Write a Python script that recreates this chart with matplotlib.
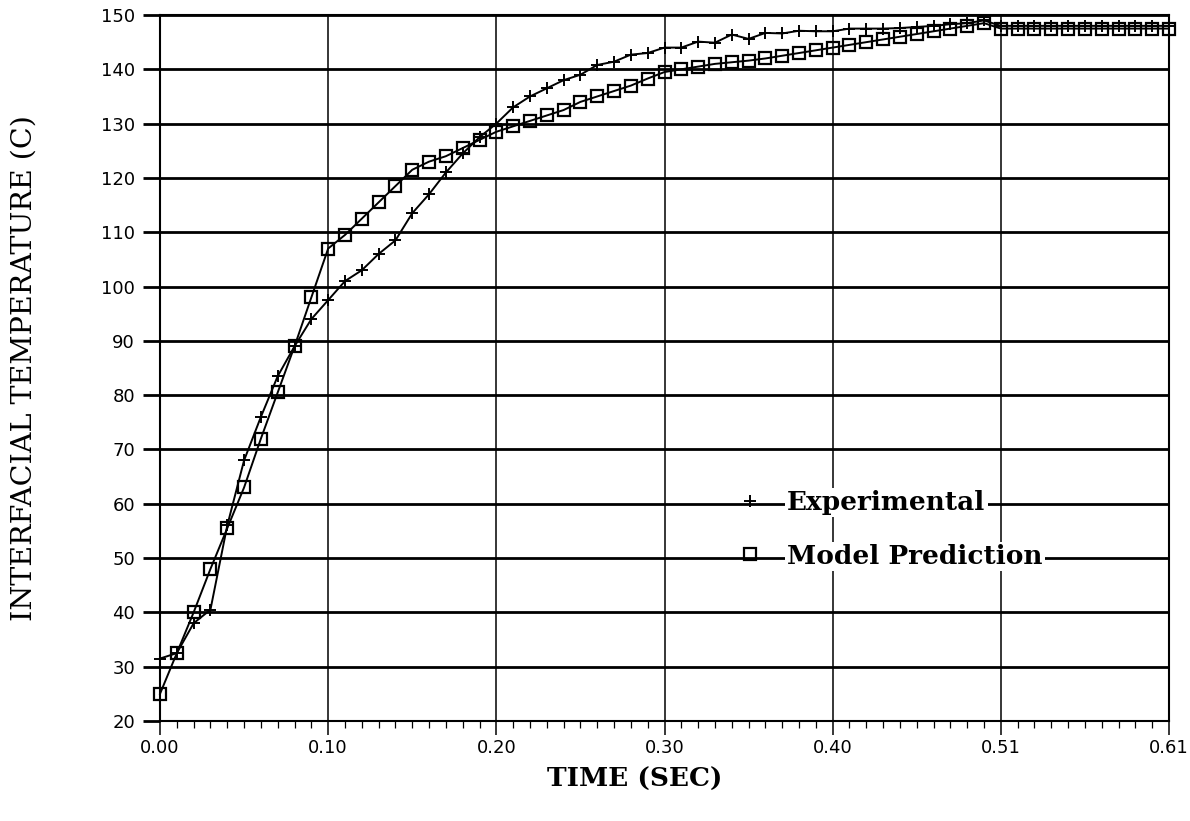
import numpy as np
import matplotlib
matplotlib.use("Agg")
import matplotlib.pyplot as plt
from matplotlib.ticker import MultipleLocator, FixedLocator, FixedFormatter

# sample index (the x axis is a category axis, 61 samples)
idx = np.arange(61)

# experimental interfacial temperature (C)
experimental = [
    31.5, 32.5, 38.0, 40.5, 56.0, 68.0, 76.0, 83.5, 89.0, 94.0,
    97.5, 101.0, 103.0, 106.0, 108.5, 113.5, 117.0, 121.0, 124.5, 127.5,
    130.0, 133.0, 135.0, 136.5, 138.0, 139.0, 140.8, 141.4, 142.7, 143.0,
    144.0, 144.0, 145.1, 144.9, 146.4, 145.6, 146.7, 146.6, 147.1, 147.0,
    147.0, 147.5, 147.5, 147.5, 147.6, 147.8, 148.0, 148.3, 148.5, 149.0,
    148.0, 148.0, 148.0, 148.0, 148.0, 148.0, 148.0, 148.0, 148.0, 148.0,
    148.0,
]

# model prediction (C)
model = [
    25.0, 32.5, 40.0, 48.0, 55.5, 63.0, 72.0, 80.5, 89.0, 98.0,
    107.0, 109.5, 112.5, 115.5, 118.5, 121.5, 123.0, 124.0, 125.5, 127.0,
    128.5, 129.5, 130.5, 131.5, 132.5, 134.0, 135.0, 136.0, 137.0, 138.3,
    139.5, 140.0, 140.5, 141.0, 141.3, 141.6, 142.0, 142.5, 143.0, 143.5,
    144.0, 144.5, 145.0, 145.5, 146.0, 146.5, 147.0, 147.5, 148.0, 148.5,
    147.5, 147.5, 147.5, 147.5, 147.5, 147.5, 147.5, 147.5, 147.5, 147.5,
    147.5,
]

x_tick_pos = [0, 10, 20, 30, 40, 50, 60]
x_tick_labels = ["0.00", "0.10", "0.20", "0.30", "0.40", "0.51", "0.61"]

fig = plt.figure(figsize=(11.9, 8.21), dpi=100)
ax = fig.add_axes([160 / 1190, 1 - 721 / 821, (1169 - 160) / 1190, (721 - 15) / 821])

ax.plot(idx, experimental, color="black", linewidth=1.4, marker="+",
        markersize=8, markeredgewidth=1.4, label="Experimental",
        clip_on=False, zorder=4)
ax.plot(idx, model, color="black", linewidth=1.4, marker="s",
        markersize=8.5, markerfacecolor="none", markeredgewidth=1.6,
        label="Model Prediction", clip_on=False, zorder=5)

ax.set_xlim(0, 60)
ax.set_ylim(20, 150)

ax.xaxis.set_major_locator(FixedLocator(x_tick_pos))
ax.xaxis.set_major_formatter(FixedFormatter(x_tick_labels))
ax.xaxis.set_minor_locator(MultipleLocator(1))
ax.yaxis.set_major_locator(MultipleLocator(10))

ax.grid(True, axis="y", color="black", linewidth=2.0)
ax.grid(True, axis="x", color="black", linewidth=1.1)
ax.set_axisbelow(True)
for s in ax.spines.values():
    s.set_linewidth(1.5)

ax.tick_params(axis="y", which="major", direction="out", length=12, width=2,
               labelsize=13, pad=6)
ax.tick_params(axis="x", which="major", direction="out", length=10, width=1.1,
               labelsize=13, pad=3)
ax.tick_params(axis="x", which="minor", direction="out", length=5, width=0.9)
for lab in ax.get_xticklabels() + ax.get_yticklabels():
    lab.set_family("DejaVu Sans")

ax.set_xlabel("TIME (SEC)", family="DejaVu Serif", fontsize=19,
              fontweight="bold")
ax.xaxis.set_label_coords((635 - 160) / 1009, -(779 - 721) / 706)
ax.xaxis.label.set_va("center")
ax.set_ylabel("INTERFACIAL TEMPERATURE (C)", family="DejaVu Serif",
              fontsize=20.5)
ax.yaxis.set_label_coords(-(160 - 24) / 1009, 0.5)
ax.yaxis.label.set_va("center")

leg = ax.legend(loc="upper left", bbox_to_anchor=(0.572, 0.327), frameon=False,
                prop={"family": "DejaVu Serif", "size": 19, "weight": "bold"},
                handlelength=1.0, handletextpad=0.9, labelspacing=1.08,
                borderaxespad=0.0, borderpad=0.0)
for h in leg.legend_handles:
    h.set_linestyle("none")
for t in leg.get_texts():
    t.set_bbox(dict(facecolor="white", edgecolor="none", pad=1.5))

fig.savefig("out.png", dpi=100, facecolor="white")
